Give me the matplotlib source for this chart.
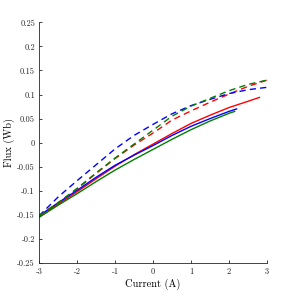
import numpy as np
import matplotlib
matplotlib.use('Agg')
import matplotlib.pyplot as plt

# values
x_red = [-3, -2.5, -2, -1.5, -1, -0.5, 0, 0.5, 1, 1.5, 2, 2.5, 2.8]
y_red = [-0.155, -0.128, -0.102, -0.075, -0.049, -0.025, -0.003, 0.019, 0.040, 0.057, 0.073, 0.086, 0.094]
x_blue = [-3, -2.5, -2, -1.5, -1, -0.5, 0, 0.5, 1, 1.5, 2, 2.2]
y_blue = [-0.152, -0.125, -0.099, -0.072, -0.047, -0.026, -0.006, 0.015, 0.034, 0.050, 0.065, 0.070]
x_green = [-3, -2.5, -2, -1.5, -1, -0.5, 0, 0.5, 1, 1.5, 2, 2.15]
y_green = [-0.155, -0.130, -0.106, -0.081, -0.057, -0.035, -0.014, 0.007, 0.027, 0.045, 0.061, 0.065]

x_dash = [-3, -2.5, -2, -1.5, -1, -0.5, 0, 0.5, 1, 1.5, 2, 2.5, 3]
y_red_dash = [-0.152, -0.125, -0.096, -0.064, -0.033, -0.005, 0.020, 0.047, 0.066, 0.084, 0.101, 0.117, 0.130]
y_blue_dash = [-0.152, -0.113, -0.079, -0.046, -0.013, 0.015, 0.038, 0.060, 0.077, 0.090, 0.102, 0.110, 0.115]
y_green_dash = [-0.152, -0.125, -0.095, -0.063, -0.032, -0.003, 0.026, 0.055, 0.076, 0.092, 0.108, 0.121, 0.130]

xticks = [-3, -2, -1, 0, 1, 2, 3]
yticks = [-0.25, -0.2, -0.15, -0.1, -0.05, 0, 0.05, 0.1, 0.15, 0.2, 0.25]

plt.rcParams['font.family'] = ['cmr10', 'DejaVu Serif']
plt.rcParams['mathtext.fontset'] = 'cm'

fig = plt.figure(figsize=(2.96, 2.96), dpi=100)
ax = fig.add_axes([0.132, 0.1115, 0.77, 0.813])

lw = 1.0
ax.plot(x_red, y_red, color='red', lw=lw)
ax.plot(x_blue, y_blue, color='blue', lw=lw)
ax.plot(x_green, y_green, color='green', lw=lw)
ax.plot(x_dash, y_red_dash, color='red', lw=lw, dashes=(4.5, 3))
ax.plot(x_dash, y_blue_dash, color='blue', lw=lw, dashes=(4.5, 3))
ax.plot(x_dash, y_green_dash, color='green', lw=lw, dashes=(4.5, 3))

ax.set_xlim(-3, 3)
ax.set_ylim(-0.25, 0.25)
ax.set_xticks(xticks)
ax.set_xticklabels(['%g' % v for v in xticks])
ax.set_yticks(yticks)
ax.set_yticklabels(['%g' % v for v in yticks])

ax.spines['top'].set_visible(False)
ax.spines['right'].set_visible(False)
for s in ['left', 'bottom']:
    ax.spines[s].set_color('#262626')
    ax.spines[s].set_linewidth(0.6)
ax.tick_params(direction='in', length=2.5, width=0.6, labelsize=6,
               colors='#262626', pad=3)

ax.set_xlabel('Current (A)', fontsize=7.5, labelpad=2)
ax.set_ylabel('Flux (Wb)', fontsize=7.5, labelpad=2)

plt.savefig('out.png', dpi=100)
